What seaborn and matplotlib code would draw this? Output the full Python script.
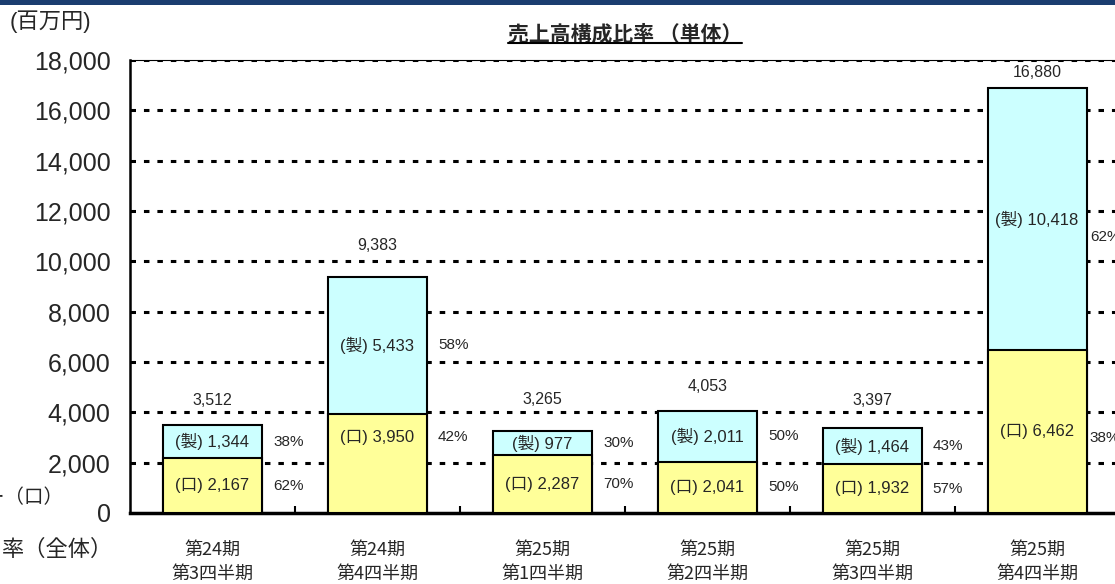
import matplotlib
matplotlib.use("Agg")
import matplotlib.pyplot as plt
import seaborn as sns
import pandas as pd
import numpy as np
from matplotlib.lines import Line2D
from matplotlib.patches import Rectangle

# data (百万円)
periods = ["第24期\n第3四半期", "第24期\n第4四半期", "第25期\n第1四半期",
           "第25期\n第2四半期", "第25期\n第3四半期", "第25期\n第4四半期"]
kuchi = [2167, 3950, 2287, 2041, 1932, 6462]   # (口)
sei = [1344, 5433, 977, 2011, 1464, 10418]     # (製)
totals = [3512, 9383, 3265, 4053, 3397, 16880]
pct_sei = [38, 58, 30, 50, 43, 62]
pct_kuchi = [62, 42, 70, 50, 57, 38]

# gap (points) between bar top and its total label
total_gap = [12, 17, 17, 12, 14, 6]

sns.set_theme(style="white")
plt.rcParams['font.family'] = ['Liberation Sans', 'Noto Sans CJK JP', 'DejaVu Sans']
cjk = ['Noto Sans CJK JP', 'DejaVu Sans']

df = pd.DataFrame({"period": periods, "kuchi": kuchi, "sei": sei})
df["top"] = df["kuchi"] + df["sei"]

fig = plt.figure(figsize=(11.15, 5.84), dpi=100)
ax = fig.add_axes([130 / 1115, 71 / 584, 989.5 / 1115, 453 / 584])

bw = 0.6
# full stack first, then bottom part over it
sns.barplot(data=df, x="period", y="top", color="#CCFFFF", width=bw,
            edgecolor="black", linewidth=1.5, saturation=1, ax=ax, zorder=3)
sns.barplot(data=df, x="period", y="kuchi", color="#FFFF99", width=bw,
            edgecolor="black", linewidth=1.5, saturation=1, ax=ax, zorder=3)

ax.set_xlim(-0.5, 5.5)
ax.set_ylim(0, 18000)
ax.set_yticks(np.arange(0, 18001, 2000))
ax.set_yticklabels([f"{v:,}" for v in range(0, 18001, 2000)], fontsize=18)
ax.tick_params(axis='y', length=0, pad=14)

ax.set_xticks(range(len(periods)))
ax.set_xticklabels(periods, fontsize=13, family=cjk, linespacing=1.45)
ax.tick_params(axis='x', which='major', length=0, pad=20)
ax.set_xticks(np.arange(0.5, 5.5, 1.0), minor=True)
ax.tick_params(axis='x', which='minor', direction='in', length=5, width=1.5,
               color='black', bottom=True)
ax.set_xlabel("")
ax.set_ylabel("")

# dotted grid
for v in range(2000, 18001, 2000):
    ax.axhline(v, color='black', linewidth=2.2, linestyle=(0, (1.8, 2.6)), zorder=1)

ax.spines["right"].set_visible(False)
ax.spines["top"].set_color("black")
ax.spines["top"].set_linewidth(0.8)
ax.spines["left"].set_color("black")
ax.spines["left"].set_linewidth(1.8)
ax.spines["bottom"].set_color("black")
ax.spines["bottom"].set_linewidth(2.5)

# labels in segments
for i in range(len(periods)):
    yk = kuchi[i] / 2
    if i == 1:
        yk = kuchi[i] * 0.76
    ys = kuchi[i] + sei[i] / 2
    ax.text(i, yk, f"(口) {kuchi[i]:,}", ha='center', va='center', fontsize=12, zorder=5)
    ax.text(i, ys, f"(製) {sei[i]:,}", ha='center', va='center', fontsize=12, zorder=5)
    dx = 0.02 if i == 5 else 0.068
    pk, ps = yk, ys
    if i == 5:
        pk, ps = yk - 250, ys - 700
    ax.text(i + bw / 2 + dx, pk, f"{pct_kuchi[i]}%", ha='left', va='center', fontsize=11, zorder=5)
    ax.text(i + bw / 2 + dx, ps, f"{pct_sei[i]}%", ha='left', va='center', fontsize=11, zorder=5)
    ax.annotate(f"{totals[i]:,}", (i, kuchi[i] + sei[i]), xytext=(0, total_gap[i]),
                textcoords='offset points', ha='center', va='bottom', fontsize=11.5, zorder=5)

# title with underline
title = ax.set_title("売上高構成比率 （単体）", fontsize=15, fontweight='bold',
                     family=cjk, pad=14)
fig.text(10 / 1115, 1 - 22 / 584, "(百万円)", fontsize=16, ha='left', va='center')

# cut-off texts at left edge
fig.text(63 / 1115, 1 - 498 / 584, "ー（口）", fontsize=14, ha='right', va='center', family=cjk)
fig.text(113 / 1115, 1 - 549 / 584, "率（全体）", fontsize=16, ha='right', va='center', family=cjk)

# top band
fig.patches.append(Rectangle((0, 1 - 5 / 584), 1, 5 / 584, transform=fig.transFigure,
                             facecolor='#1B3D70', edgecolor='none'))

fig.canvas.draw()
bb = title.get_window_extent().transformed(fig.transFigure.inverted())
fig.lines.append(Line2D([bb.x0, bb.x1], [bb.y0 + 0.003, bb.y0 + 0.003],
                        transform=fig.transFigure, color='black', linewidth=1.5))

fig.savefig("out.png", dpi=100)
